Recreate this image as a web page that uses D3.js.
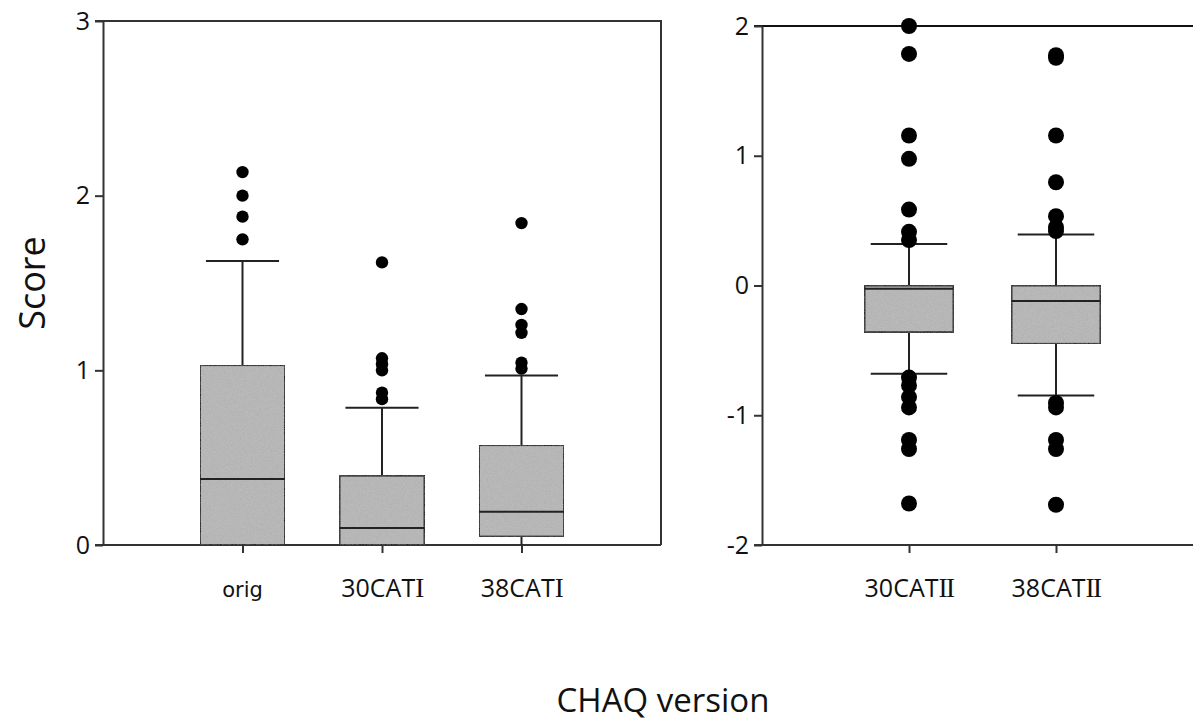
<!DOCTYPE html>
<html><head><meta charset="utf-8">
<script src="https://cdn.jsdelivr.net/npm/d3@7"></script>
<style>body{margin:0;background:#fff}svg{display:block}</style>
</head><body>
<svg id="c" width="1193" height="725"></svg>
<script>
// ---- data ----
const leftCats = [["orig",""], ["30CAT","I"], ["38CAT","I"]];
const leftLow  = [0, 0, 0];
const leftQ1   = [0, 0, 0.048];
const leftMed  = [0.378, 0.097, 0.19];
const leftQ3   = [1.03, 0.397, 0.572];
const leftHigh = [1.626, 0.786, 0.97];
const leftOut  = [
  [2.135, 2.0, 1.88, 1.75],
  [1.618, 1.069, 1.035, 1.0, 0.872, 0.835],
  [1.843, 1.351, 1.26, 1.215, 1.044, 1.01]
];
const leftTicks = [0, 1, 2, 3];

const rightCats = [["30CAT","II"], ["38CAT","II"]];
const rightLow  = [-0.68, -0.848];
const rightQ1   = [-0.36, -0.45];
const rightMed  = [-0.025, -0.12];
const rightQ3   = [0, 0];
const rightHigh = [0.32, 0.393];
const rightOut  = [
  [2.0, 1.785, 1.156, 0.976, 0.585, 0.414, 0.35, -0.71, -0.77, -0.86, -0.94, -1.19, -1.26, -1.68],
  [1.775, 1.755, 1.156, 0.796, 0.534, 0.45, 0.42, -0.905, -0.94, -1.19, -1.26, -1.69]
];
const rightTicks = [-2, -1, 0, 1, 2];

const svg = d3.select("#c");
const AX = "#333", BOX = "#222", FILL = "#bcbcbc";
const SANS = "'Open Sans', 'Noto Sans', sans-serif";

// noise texture filter for box fill
const defs = svg.append("defs");
const f = defs.append("filter").attr("id","grain").attr("x",0).attr("y",0).attr("width",1).attr("height",1);
f.append("feTurbulence").attr("type","fractalNoise").attr("baseFrequency",1.3).attr("numOctaves",1).attr("seed",3).attr("result","n");
f.append("feColorMatrix").attr("in","n").attr("type","matrix")
  .attr("values","0 0 0 0 0.3  0 0 0 0 0.3  0 0 0 0 0.3  0 0 0 0.6 -0.15").attr("result","na");
f.append("feComposite").attr("in","na").attr("in2","SourceGraphic").attr("operator","in").attr("result","nc");
f.append("feMerge").call(m=>{m.append("feMergeNode").attr("in","SourceGraphic");m.append("feMergeNode").attr("in","nc");});

function panel(opts){
  const {cats, low, q1, med, q3, high, out, ticks, x, y, boxW, r, labelSize, tickLabelY} = opts;
  const g = svg.append("g");
  // y axis
  const ya = g.append("g").attr("transform",`translate(${x.range()[0]},0)`)
    .attr("font-size",25).attr("font-family",SANS)
    .call(d3.axisLeft(y).tickValues(ticks).tickSize(8).tickSizeOuter(0).tickFormat(d=>String(d)));
  ya.attr("font-size",25).attr("font-family",SANS);
  ya.select(".domain").attr("stroke",AX).attr("stroke-width",2);
  ya.selectAll(".tick line").attr("stroke",AX).attr("stroke-width",2);
  ya.selectAll(".tick text").style("font-size","25px").style("font-family",SANS)
    .attr("fill","#111").attr("x",-13);
  // x axis
  const xa = g.append("g").attr("transform",`translate(0,${y.range()[0]})`)
    .call(d3.axisBottom(x).tickValues(cats.map((c,i)=>i+1)).tickSize(8).tickSizeOuter(0).tickFormat(""));
  xa.select(".domain").attr("stroke",AX).attr("stroke-width",2)
    .attr("d",`M${x.range()[0]-8},0H${Math.min(x.range()[1],1193)}`);
  xa.selectAll(".tick line").attr("stroke",AX).attr("stroke-width",2);
  // category labels
  const t = g.selectAll("text.cat").data(cats).join("text").attr("class","cat")
    .attr("x",(d,i)=>x(i+1)).attr("y",tickLabelY).attr("text-anchor","middle")
    .attr("font-size",(d,i)=>labelSize[i]).attr("fill","#111");
  t.append("tspan").attr("font-family",d=>d[1]==="" ? "'DejaVu Sans', Verdana, sans-serif" : SANS).text(d=>d[0]);
  t.append("tspan").attr("font-family","'Liberation Serif', 'DejaVu Serif', serif").attr("letter-spacing",-1.5)
    .attr("font-size",27).text(d=>d[1]);
  // boxes
  cats.forEach((c,i)=>{
    const cx = x(i+1);
    g.append("line").attr("x1",cx).attr("x2",cx).attr("y1",y(high[i])).attr("y2",y(q3[i])).attr("stroke",BOX).attr("stroke-width",2);
    g.append("line").attr("x1",cx).attr("x2",cx).attr("y1",y(q1[i])).attr("y2",y(low[i])).attr("stroke",BOX).attr("stroke-width",2);
    if (high[i] > q3[i]) g.append("line").attr("x1",cx-boxW*0.43).attr("x2",cx+boxW*0.43).attr("y1",y(high[i])).attr("y2",y(high[i])).attr("stroke",BOX).attr("stroke-width",2);
    if (low[i] < q1[i] && low[i] > y.domain()[0]) g.append("line").attr("x1",cx-boxW*0.43).attr("x2",cx+boxW*0.43).attr("y1",y(low[i])).attr("y2",y(low[i])).attr("stroke",BOX).attr("stroke-width",2);
    g.append("rect").attr("x",cx-boxW/2).attr("width",boxW).attr("y",y(q3[i])).attr("height",y(q1[i])-y(q3[i]))
      .attr("fill",FILL).attr("filter","url(#grain)").attr("stroke",BOX).attr("stroke-width",2);
    g.append("line").attr("x1",cx-boxW/2).attr("x2",cx+boxW/2).attr("y1",y(med[i])).attr("y2",y(med[i])).attr("stroke",BOX).attr("stroke-width",2);
    g.selectAll(null).data(out[i]).join("circle").attr("cx",cx).attr("cy",d=>y(d)).attr("r",r).attr("fill","#000");
  });
  return g;
}

// left panel
const xL = d3.scaleLinear().domain([0,4]).range([103,661]);
const yL = d3.scaleLinear().domain([0,3]).range([545,21]);
const gl = panel({cats:leftCats, low:leftLow, q1:leftQ1, med:leftMed, q3:leftQ3, high:leftHigh, out:leftOut,
  ticks:leftTicks, x:xL, y:yL, boxW:85, r:6.2, labelSize:[21,25,25], tickLabelY:597});
gl.append("path").attr("d",`M${xL(0)-8},${yL(3)}H${xL(4)}V${yL(0)}`).attr("fill","none").attr("stroke",AX).attr("stroke-width",2);

// right panel
const xR = d3.scaleLinear().domain([0,3]).range([762,1203]);
const yR = d3.scaleLinear().domain([-2,2]).range([545,26]);
const gr = panel({cats:rightCats, low:rightLow, q1:rightQ1, med:rightMed, q3:rightQ3, high:rightHigh, out:rightOut,
  ticks:rightTicks, x:xR, y:yR, boxW:89, r:8, labelSize:[25,25], tickLabelY:597});
gr.insert("line",":first-child").attr("x1",xR(0)-8).attr("x2",1193).attr("y1",yR(2)).attr("y2",yR(2)).attr("stroke","#111").attr("stroke-width",2);

// titles
svg.append("text").attr("transform","translate(45,283) rotate(-90)").attr("text-anchor","middle")
  .attr("font-family",SANS).attr("font-size",36).attr("fill","#111").text("Score");
svg.append("text").attr("x",663).attr("y",712).attr("text-anchor","middle")
  .attr("font-family",SANS).attr("font-size",33).attr("fill","#111").text("CHAQ version");
</script>
</body></html>
